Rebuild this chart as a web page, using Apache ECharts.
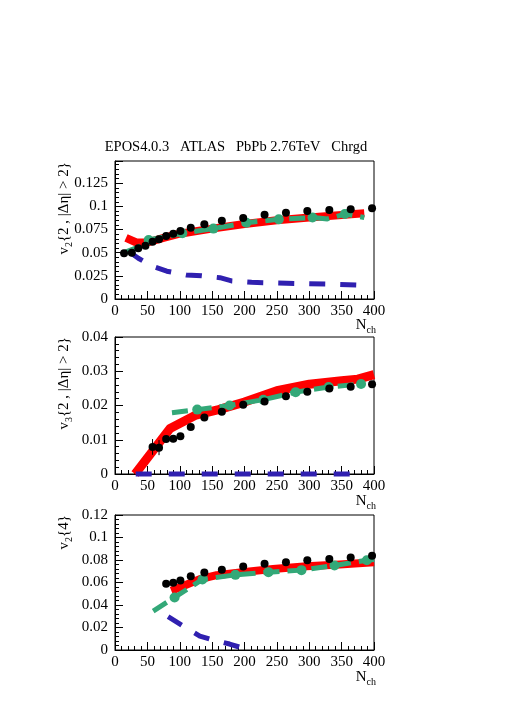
<!DOCTYPE html>
<html>
<head>
<meta charset="utf-8">
<script src="https://cdn.jsdelivr.net/npm/echarts@6/dist/echarts.min.js"></script>
<style>
    html, body {margin: 0; padding: 0; background: #fff;}
    #main {width: 506px; height: 716px;}
</style>
</head>
<body>
<div id="main"></div>
<script>
    // ATLAS data points (black)
    var nchV22 = [14, 26, 36, 47, 58, 68, 79, 90, 101, 117, 138, 165, 198, 231, 264, 297, 331, 364, 397];
    var dataV22 = [0.0493, 0.0500, 0.0547, 0.0576, 0.0619, 0.0644, 0.0680, 0.0705, 0.0734, 0.0770, 0.0806, 0.0845, 0.0874, 0.0910, 0.0930, 0.0950, 0.0960, 0.0970, 0.0980];
    var nchV32 = [58, 68, 79, 90, 101, 117, 138, 165, 198, 231, 264, 297, 331, 364, 397];
    var dataV32 = [0.0079, 0.0077, 0.0102, 0.0103, 0.0110, 0.0137, 0.0165, 0.0182, 0.0202, 0.0212, 0.0227, 0.0240, 0.0250, 0.0255, 0.0262];
    var errV32 = [0.0023, 0.0022, 0.0010, 0.0010, 0.0008, 0.0006, 0.0005, 0.0004, 0.0004, 0.0004, 0.0004, 0.0004, 0.0004, 0.0004, 0.0004];
    var nchV24 = [79, 90, 101, 117, 138, 165, 198, 231, 264, 297, 331, 364, 397];
    var dataV24 = [0.0588, 0.0597, 0.0618, 0.0656, 0.0689, 0.0714, 0.0742, 0.0766, 0.0780, 0.0798, 0.0810, 0.0822, 0.0837];

    // EPOS curves: red (full), green dashed (with markers), blue dashed
    var redV22 = [[17, 0.066], [33, 0.061], [50, 0.061], [75, 0.066], [100, 0.0705], [150, 0.0760], [200, 0.0810], [250, 0.0850], [300, 0.0880], [350, 0.0906], [385, 0.0925]];
    var greenV22 = [[17, 0.051], [36, 0.056], [52, 0.0637], [104, 0.0709], [152, 0.0760], [203, 0.0824], [253, 0.0860], [305, 0.0880], [328, 0.0865], [355, 0.0917], [385, 0.0880]];
    var greenMkV22 = [[52, 0.0637], [104, 0.0709], [152, 0.0760], [203, 0.0824], [253, 0.0860], [305, 0.0880], [355, 0.0917]];
    var blueV22 = [[22, 0.051], [36, 0.044], [59, 0.035], [80, 0.030], [110, 0.026], [134, 0.025], [162, 0.023], [180, 0.0195], [211, 0.018], [265, 0.017], [300, 0.0165], [339, 0.016], [380, 0.015]];

    var redV32 = [[31, 0], [85, 0.0133], [125, 0.0172], [160, 0.0188], [200, 0.0210], [250, 0.0243], [300, 0.0262], [350, 0.0272], [375, 0.0277], [400, 0.0290]];
    var greenV32 = [[88, 0.0179], [127, 0.0188], [177, 0.0200], [229, 0.0217], [279, 0.0239], [330, 0.0254], [380, 0.0263]];
    var greenMkV32 = [[127, 0.0188], [177, 0.0200], [229, 0.0217], [279, 0.0239], [330, 0.0254], [380, 0.0263]];
    var blueV32 = [[32, 0], [366, 0]];

    var redV24 = [[87, 0.0526], [110, 0.058], [131, 0.063], [157, 0.0665], [193, 0.069], [244, 0.072], [296, 0.0745], [347, 0.076], [400, 0.078]];
    var greenV24 = [[59, 0.0346], [92, 0.0467], [135, 0.0627], [186, 0.0668], [237, 0.0692], [288, 0.0710], [339, 0.0751], [389, 0.0798], [400, 0.0805]];
    var greenMkV24 = [[92, 0.0467], [135, 0.0627], [186, 0.0668], [237, 0.0692], [288, 0.0710], [339, 0.0751], [389, 0.0798]];
    var blueV24 = [[82, 0.0296], [105, 0.0213], [131, 0.0124], [152, 0.0089], [177, 0.0053], [200, 0.0012]];

    var xTicks = {min: 0, max: 400, interval: 50};
    var yRanges = [
        {min: 0, max: 0.149, interval: 0.025},
        {min: 0, max: 0.04, interval: 0.01},
        {min: 0, max: 0.12, interval: 0.02}
    ];

    var FONT = 'Liberation Serif';
    var RED = '#ff0000', GREEN = '#33a878', BLUE = '#3020b0';

    function zip(xs, ys) {
        return xs.map(function (x, i) {
            return [x, ys[i]];
        });
    }

    var grids = [
        {left: 115, top: 161, width: 259, height: 138},
        {left: 115, top: 337, width: 259, height: 137},
        {left: 115, top: 515, width: 259, height: 135}
    ].map(function (g) {
        g.show = true;
        g.borderColor = '#000';
        g.borderWidth = 1;
        g.backgroundColor = 'transparent';
        g.outerBoundsMode = 'none';
        g.containLabel = false;
        return g;
    });

    var xAxes = grids.map(function (g, i) {
        return {
            type: 'value', gridIndex: i, min: xTicks.min, max: xTicks.max, interval: xTicks.interval,
            splitLine: {show: false},
            axisLine: {lineStyle: {color: '#000', width: 1}},
            axisTick: {inside: true, length: 8, lineStyle: {color: '#000'}},
            minorTick: {show: true, splitNumber: 5, length: 4, lineStyle: {color: '#000'}},
            axisLabel: {fontFamily: FONT, fontSize: 15, color: '#000', margin: 5}
        };
    });

    var yAxes = yRanges.map(function (r, i) {
        return {
            type: 'value', gridIndex: i, min: r.min, max: r.max, interval: r.interval,
            splitLine: {show: false},
            axisLine: {show: true, lineStyle: {color: '#000', width: 1}},
            axisTick: {show: true, inside: true, length: 8, lineStyle: {color: '#000'}},
            minorTick: {show: true, splitNumber: 5, length: 4, lineStyle: {color: '#000'}},
            axisLabel: {fontFamily: FONT, fontSize: 15, color: '#000', margin: 7, showMaxLabel: i !== 0}
        };
    });

    function lineSeries(idx, data, color, width, dash, z) {
        return {
            type: 'line', xAxisIndex: idx, yAxisIndex: idx, data: data, showSymbol: false,
            symbol: 'none', smooth: false, z: z, silent: true, clip: true,
            lineStyle: {color: color, width: width, type: dash || 'solid', cap: 'butt', join: 'round'}
        };
    }

    function dots(idx, data, color, size, z) {
        return {
            type: 'scatter', xAxisIndex: idx, yAxisIndex: idx, data: data, symbol: 'circle',
            symbolSize: size, z: z, silent: true,
            itemStyle: {color: color, opacity: 1}
        };
    }

    var series = [
        lineSeries(0, redV22, RED, 8, null, 2),
        lineSeries(0, blueV22, BLUE, 5, [16, 15], 3),
        lineSeries(0, greenV22, GREEN, 5, [16, 8], 4),
        dots(0, greenMkV22, GREEN, 10, 5),
        dots(0, zip(nchV22, dataV22), '#000', 8, 6),

        lineSeries(1, redV32, RED, 9, null, 2),
        lineSeries(1, greenV32, GREEN, 5, [16, 8], 4),
        dots(1, greenMkV32, GREEN, 10, 5),
        {
            type: 'custom', xAxisIndex: 1, yAxisIndex: 1, z: 6, silent: true,
            data: nchV32.map(function (x, i) {
                return [x, dataV32[i], errV32[i]];
            }),
            renderItem: function (params, api) {
                var x = api.value(0), y = api.value(1), e = api.value(2);
                var p = api.coord([x, y - e]);
                var q = api.coord([x, y + e]);
                return {
                    type: 'line', shape: {x1: p[0], y1: p[1], x2: q[0], y2: q[1]},
                    style: {stroke: '#000', lineWidth: 1}
                };
            }
        },
        dots(1, zip(nchV32, dataV32), '#000', 8, 7),
        (function () {
            var s = lineSeries(1, blueV32, BLUE, 5, [16, 17], 8);
            s.clip = false;
            return s;
        })(),

        lineSeries(2, redV24, RED, 8, null, 2),
        lineSeries(2, blueV24, BLUE, 5, [16, 15], 3),
        lineSeries(2, greenV24, GREEN, 5, [16, 8], 4),
        dots(2, greenMkV24, GREEN, 10, 5),
        dots(2, zip(nchV24, dataV24), '#000', 8, 6)
    ];

    var rich = {
        m: {fontFamily: FONT, fontSize: 15, color: '#000', lineHeight: 20, verticalAlign: 'middle'},
        s: {fontFamily: FONT, fontSize: 10, color: '#000', lineHeight: 11, verticalAlign: 'bottom'}
    };

    function yTitle(top, txt) {
        return {
            type: 'text', x: 64, y: top, rotation: Math.PI / 2, silent: true,
            style: {text: txt, rich: rich, font: '15px "Liberation Serif"', fill: '#000', align: 'right', verticalAlign: 'middle'}
        };
    }

    function xTitle(y) {
        return {
            type: 'text', x: 376, y: y, silent: true,
            style: {text: '{m|N}{s|ch}', rich: rich, align: 'right', verticalAlign: 'middle'}
        };
    }

    var graphic = [
        {
            type: 'text', x: 236, y: 147, silent: true,
            style: {
                text: 'EPOS4.0.3   ATLAS   PbPb 2.76TeV   Chrgd',
                font: '14.5px "Liberation Serif"', fill: '#000', align: 'center', verticalAlign: 'middle'
            }
        },
        yTitle(162, '{m|v}{s|2}{m|{2 , |Δη| > 2}}'),
        yTitle(337, '{m|v}{s|3}{m|{2 , |Δη| > 2}}'),
        yTitle(515, '{m|v}{s|2}{m|{4}}'),
        xTitle(325),
        xTitle(501),
        xTitle(677)
    ];

    var chart = echarts.init(document.getElementById('main'), null, {renderer: 'canvas'});
    chart.setOption({
        animation: false,
        backgroundColor: '#fff',
        grid: grids,
        xAxis: xAxes,
        yAxis: yAxes,
        series: series,
        graphic: graphic
    });
</script>
</body>
</html>
